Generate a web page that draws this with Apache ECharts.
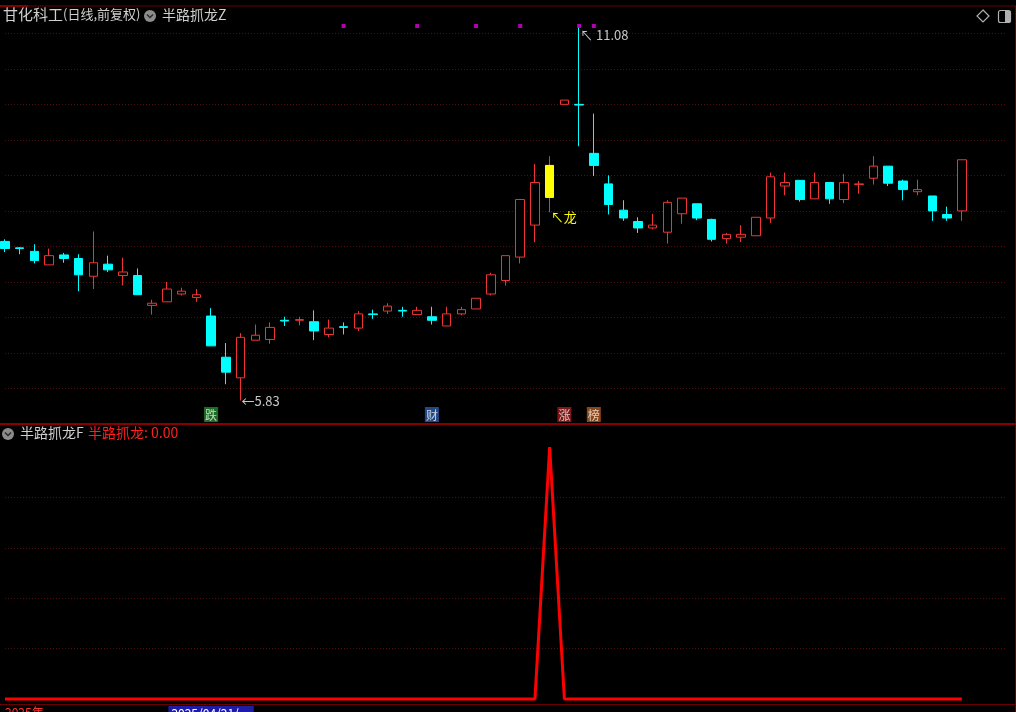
<!DOCTYPE html>
<html><head><meta charset="utf-8">
<script src="https://cdn.jsdelivr.net/npm/echarts@6/dist/echarts.min.js"></script>
<style>html,body{margin:0;padding:0;background:#000;overflow:hidden}#c{width:1016px;height:712px}</style>
</head><body><div id="c"></div>
<script>
// ---- data ----
const opens  = [8.07,7.98,7.93,7.74,7.88,7.83,7.58,7.75,7.59,7.59,7.17,7.22,7.33,7.28,7.02,6.44,6.15,6.68,6.69,6.96,6.96,6.94,6.76,6.87,6.85,7.05,7.09,7.10,7.04,7.01,6.88,7.05,7.12,7.33,7.52,7.85,8.30,8.69,10.00,10.00,9.31,8.88,8.51,8.35,8.26,8.20,8.46,8.60,8.38,8.11,8.13,8.15,8.40,8.85,8.93,8.67,8.90,8.66,8.87,8.96,9.13,8.92,8.77,8.71,8.45,8.50];
const closes = [7.97,7.97,7.80,7.87,7.83,7.60,7.77,7.67,7.64,7.32,7.20,7.40,7.37,7.32,6.60,6.23,6.72,6.75,6.86,6.95,6.97,6.81,6.85,6.86,7.05,7.04,7.16,7.09,7.10,6.96,7.05,7.11,7.27,7.60,7.87,8.66,8.90,9.14,10.06,9.99,9.14,8.59,8.40,8.26,8.30,8.62,8.68,8.40,8.10,8.17,8.17,8.41,8.98,8.90,8.66,8.90,8.67,8.90,8.88,9.13,8.89,8.80,8.80,8.50,8.40,9.22];
const lows   = [7.92,7.89,7.76,7.74,7.77,7.37,7.40,7.64,7.45,7.32,7.04,7.22,7.31,7.22,6.60,6.06,5.83,6.68,6.63,6.88,6.89,6.68,6.72,6.76,6.81,6.98,7.05,7.01,7.04,6.90,6.88,7.03,7.12,7.31,7.45,7.76,8.06,8.48,10.00,9.41,8.99,8.45,8.36,8.19,8.24,8.04,8.32,8.37,8.07,8.04,8.06,8.15,8.33,8.72,8.63,8.67,8.60,8.61,8.74,8.87,8.85,8.65,8.72,8.36,8.36,8.36];
const highs  = [8.10,7.99,8.03,7.97,7.91,7.89,8.21,7.87,7.84,7.69,7.25,7.50,7.42,7.40,7.13,6.64,6.78,6.90,6.93,7.01,7.01,7.10,6.97,6.93,7.09,7.11,7.20,7.15,7.15,7.15,7.15,7.15,7.27,7.63,7.87,8.66,9.16,9.27,10.06,11.08,9.87,9.00,8.65,8.41,8.46,8.65,8.68,8.60,8.39,8.19,8.30,8.41,9.04,9.04,8.93,9.04,8.90,9.02,8.92,9.27,9.13,8.94,8.94,8.71,8.56,9.22];
// indicator 半路抓龙 (lower pane)
const signal = [0,0,0,0,0,0,0,0,0,0,0,0,0,0,0,0,0,0,0,0,0,0,0,0,0,0,0,0,0,0,0,0,0,0,0,0,0,1,0,0,0,0,0,0,0,0,0,0,0,0,0,0,0,0,0,0,0,0,0,0,0,0,0,0,0,0];
const highlightIdx = [37];          // yellow signal candle
const dragonIdx = 37;                // "龙" marker
const dragonText = '龙';
const dotIdx = [23,28,32,35,39,40];  // magenta dots on top
const badgeIdx = [14,29,38,40];
const badgeText = ['跌','财','涨','榜'];
const tickLabelIdx = [0,14];
const tickLabels = ['2025年','2025/04/21/一'];
const blankSlots = 3;                // empty space right of the last bar
const yTicksUpper = {min:5.5, max:11.3, step:0.5};
const yTicksLower = {min:0, max:1, step:0.2};
const indName = '半路抓龙';
const lastVal = signal[signal.length-1];

// ---- styles ----
const badgeColors = ['#1f8a2a','#2a5aa8','#a01c1c','#b0581c'];
const UP = '#f03434', DOWN = '#00ffff', GRID = '#4e1010';

const cats = [];
for (let i = 0; i < opens.length + blankSlots; i++) cats.push(String(i));
const kData = opens.map((o, i) => [o, closes[i], lows[i], highs[i]]);
const hlData = opens.map((o, i) => highlightIdx.includes(i)
  ? [o, closes[i], Math.min(o, closes[i]), Math.max(o, closes[i])] : ['-','-','-','-']);

const chart = echarts.init(document.getElementById('c'), null, {renderer:'canvas'});
const font = "'Noto Sans CJK SC','Noto Sans',sans-serif";

chart.setOption({
  backgroundColor:'#000',
  animation:false,
  textStyle:{fontFamily:font},
  grid:[
    {left:5, right:10, top:12, bottom:288, outerBoundsMode:'none', containLabel:false},
    {left:5, right:10, top:447, bottom:13, outerBoundsMode:'none', containLabel:false}
  ],
  xAxis:[
    {gridIndex:0, type:'category', data:cats, boundaryGap:false,
     axisLine:{show:false}, axisTick:{show:false}, axisLabel:{show:false}, splitLine:{show:false}},
    {gridIndex:1, type:'category', data:cats, boundaryGap:false, offset:5,
     axisLine:{show:false}, axisTick:{show:false}, splitLine:{show:false},
     axisLabel:{show:true, margin:2, fontSize:12, alignMinLabel:'left',
       interval:(idx) => tickLabelIdx.includes(idx),
       formatter:(v, idx) => { const k = tickLabelIdx.indexOf(Number(v)); if (k < 0) return '';
         return k === 0 ? '{y|' + tickLabels[k] + '}' : '{d|' + tickLabels[k] + '}'; },
       rich:{y:{color:'#ff3030', fontSize:12}, d:{color:'#ffffff', backgroundColor:'#1c1ca8', padding:[1,3], fontSize:12}}}}
  ],
  yAxis:[
    {gridIndex:0, type:'value', min:yTicksUpper.min, max:yTicksUpper.max, interval:yTicksUpper.step,
     axisLine:{show:false}, axisTick:{show:false}, axisLabel:{show:false},
     splitLine:{show:true, showMinLine:false, showMaxLine:false, lineStyle:{color:GRID, type:[1,2], width:1}}},
    {gridIndex:1, type:'value', min:yTicksLower.min, max:yTicksLower.max, interval:yTicksLower.step,
     axisLine:{show:false}, axisTick:{show:false}, axisLabel:{show:false},
     splitLine:{show:true, showMinLine:false, showMaxLine:false, lineStyle:{color:GRID, type:[1,2], width:1}}}
  ],
  series:[
    {type:'candlestick', name:'K', xAxisIndex:0, yAxisIndex:0, data:kData, barWidth:9, clip:false,
     itemStyle:{color:'#000', color0:DOWN, borderColor:UP, borderColor0:DOWN, borderWidth:1},
     markPoint:{symbol:'circle', symbolSize:0, silent:true, animation:false,
       data:[
         {type:'max', valueDim:'highest',
          label:{show:true, position:'right', distance:1, offset:[0,7], color:'#c8c8c8', fontSize:13,
                 formatter:(p) => '↖ ' + Number(p.value).toFixed(2)}},
         {type:'min', valueDim:'lowest',
          label:{show:true, position:'right', distance:1, offset:[0,1], color:'#c8c8c8', fontSize:13,
                 formatter:(p) => '←' + Number(p.value).toFixed(2)}},
         {coord:[dragonIdx, lows[dragonIdx]], value:dragonText,
          label:{show:true, position:'right', distance:1, offset:[0,5], color:'#ffff00', fontSize:13,
                 formatter:(p) => '↖' + p.value}}
       ]}},
    {type:'candlestick', name:'hl', xAxisIndex:0, yAxisIndex:0, data:hlData, barWidth:9, clip:false, z:3,
     itemStyle:{color:'#ffff00', color0:'#ffff00', borderColor:'#ffff00', borderColor0:'#ffff00', borderWidth:1}},
    {type:'scatter', xAxisIndex:0, yAxisIndex:0, clip:false, symbol:'rect', symbolSize:4, symbolOffset:[0,14],
     itemStyle:{color:'#e000e0'}, data:dotIdx.map(i => [i, yTicksUpper.max])},
    {type:'scatter', xAxisIndex:0, yAxisIndex:0, clip:false, symbolSize:0, z:4,
     data:badgeIdx.map((i, k) => ({value:[i, yTicksUpper.min],
       label:{show:true, position:'top', distance:2, formatter:badgeText[k], color:'#f0f0f0', fontSize:12,
              backgroundColor:badgeColors[k], padding:[1,1,0,1], lineHeight:14}}))},
    {type:'line', xAxisIndex:1, yAxisIndex:1, data:signal, symbol:'none', clip:false,
     lineStyle:{color:'#ff0000', width:3}}
  ],
  graphic:[
    {type:'line', shape:{x1:0, y1:6, x2:1016, y2:6}, style:{stroke:'#6a0000', lineWidth:1}, silent:true},
    {type:'line', shape:{x1:0, y1:6, x2:28, y2:6}, style:{stroke:'#d00000', lineWidth:1}, silent:true},
    {type:'line', shape:{x1:1015.5, y1:6, x2:1015.5, y2:712}, style:{stroke:'#6a0000', lineWidth:1}, silent:true},
    {type:'line', shape:{x1:0, y1:424, x2:1016, y2:424}, style:{stroke:'#8a0000', lineWidth:2}, silent:true},
    {type:'line', shape:{x1:0, y1:704.5, x2:1016, y2:704.5}, style:{stroke:'#6a0000', lineWidth:1}, silent:true},
    {type:'text', left:3, top:7, style:{text:'{a|甘化科工}{b|(日线,前复权)}', fill:'#d0d0d0', font:'14px ' + font,
      rich:{a:{fontSize:15, fill:'#d0d0d0', fontFamily:font}, b:{fontSize:13, fill:'#d0d0d0', fontFamily:font}}}},
    {type:'circle', shape:{cx:150, cy:16, r:6}, style:{fill:'#8c8c8c'}},
    {type:'polyline', shape:{points:[[147,14.5],[150,17.5],[153,14.5]]}, style:{stroke:'#2a2a2a', lineWidth:1.5, fill:null}},
    {type:'text', left:162, top:8, style:{text:indName + 'Z', fill:'#d0d0d0', font:'14px ' + font}},
    {type:'polygon', shape:{points:[[983,10],[989,16],[983,22],[977,16]]}, style:{stroke:'#b0b0b0', fill:null, lineWidth:1.2}},
    {type:'rect', shape:{x:998.5, y:10.5, width:12, height:12, r:2}, style:{stroke:'#b0b0b0', fill:null, lineWidth:1.2}},
    {type:'rect', shape:{x:1005, y:11, width:5, height:11}, style:{fill:'#b0b0b0'}},
    {type:'circle', shape:{cx:8, cy:434, r:6}, style:{fill:'#8c8c8c'}},
    {type:'polyline', shape:{points:[[5,432.5],[8,435.5],[11,432.5]]}, style:{stroke:'#2a2a2a', lineWidth:1.5, fill:null}},
    {type:'text', left:20, top:426, style:{text:indName + 'F', fill:'#d0d0d0', font:'14px ' + font}},
    {type:'text', left:88, top:426, style:{text:indName + ': ' + lastVal.toFixed(2), fill:'#ff2020', font:'14px ' + font}}
  ]
});
</script></body></html>
